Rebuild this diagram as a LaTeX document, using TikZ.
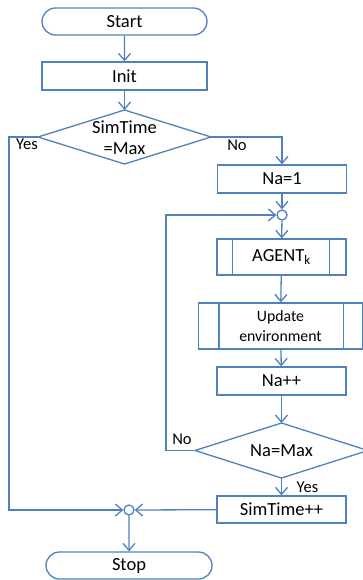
\documentclass[tikz,border=0pt]{standalone}
\usepackage{fontspec}
\setmainfont{Carlito}
\usetikzlibrary{arrows.meta,shapes.misc,calc}
\definecolor{fc}{HTML}{4F81BD}
\begin{document}
\begin{tikzpicture}[x=1pt,y=-1pt,line width=1.3pt,
  every node/.style={font=\fontsize{18.5}{21}\selectfont},
  term/.style={draw=fc,rounded rectangle,minimum width=165pt,minimum height=27pt,inner sep=0pt},
  proc/.style={draw=fc,rectangle,minimum width=129pt,minimum height=28pt,inner sep=0pt},
  arr/.style={draw=fc,-{Straight Barb[length=7pt,width=12pt,line width=1.3pt]}},
  lbl/.style={font=\fontsize{16.5}{19}\selectfont,inner sep=0pt},
  junc/.style={draw=fc,circle,minimum size=10pt,inner sep=0pt,fill=white}]
\useasboundingbox (0,0) rectangle (363,580);
% nodes
\node[term] (start) at (124.5,21.5) {Start};
\node[proc,minimum width=165pt] (init) at (124.5,76) {Init};
\coordinate (d1t) at (124.5,110);
\coordinate (d1r) at (211,137);
\coordinate (d1b) at (124.5,164);
\coordinate (d1l) at (38,137);
\draw[fc] (d1t) -- (d1r) -- (d1b) -- (d1l) -- cycle;
\node[align=center,inner sep=0pt] (d1) at (124.5,137.5) {SimTime\\=Max};
\node[proc] (na1) at (282,179) {Na=1};
\node[junc] (j1) at (282,215) {};
\node[proc,minimum height=36pt] (agent) at (281.5,257) {AGENT\textsubscript{k}};
\draw[fc] ($(agent.north west)+(16,0)$) -- ($(agent.south west)+(16,0)$);
\draw[fc] ($(agent.north east)+(-17,0)$) -- ($(agent.south east)+(-17,0)$);
\node[proc,minimum width=164pt,minimum height=46pt,align=center,font=\fontsize{15.8}{20}\selectfont] (upd) at (280.5,326) {Update\\environment};
\draw[fc] ($(upd.north west)+(21,0)$) -- ($(upd.south west)+(21,0)$);
\draw[fc] ($(upd.north east)+(-20,0)$) -- ($(upd.south east)+(-20,0)$);
\node[proc] (napp) at (281.5,381) {Na++};
\coordinate (d2t) at (281.5,423);
\coordinate (d2r) at (368,450.5);
\coordinate (d2b) at (281.5,478);
\coordinate (d2l) at (195,450.5);
\draw[fc] (d2t) -- (d2r) -- (d2b) -- (d2l) -- cycle;
\node[inner sep=0pt] (d2) at (281.5,451) {Na=Max};
\node[proc,minimum height=27pt] (simpp) at (281.5,509.5) {SimTime++};
\node[junc] (j2) at (129,510) {};
\node[term,minimum width=166pt] (stop) at (129,565.5) {Stop};
% connectors
\draw[arr] (start) -- (init);
\draw[arr] (init) -- (d1t);
\draw[arr] (d1r) -| (na1.north);
\draw[arr] (na1) -- (j1);
\draw[arr] (j1) -- (agent);
\draw[arr] (agent) -- (upd);
\draw[arr] (upd) -- (napp);
\draw[arr] (napp) -- (d2t);
\draw[arr] (d2b) -- (simpp);
\coordinate (c1) at (9,137);
\coordinate (c2) at (9,510);
\draw[arr] (d1l) -- (c1) -- (c2) -- (j2);
\coordinate (c3) at (166,450.5);
\coordinate (c4) at (166,215);
\draw[arr] (d2l) -- (c3) -- (c4) -- (j1);
\draw[arr] (simpp) -- (j2);
\draw[arr] (j2) -- (stop);
% labels
\node[lbl] (ly1) at (27,144) {Yes};
\node[lbl] (ln1) at (237,145) {No};
\node[lbl] (ln2) at (182,439) {No};
\node[lbl] (ly2) at (307.5,487) {Yes};
\end{tikzpicture}
\end{document}
